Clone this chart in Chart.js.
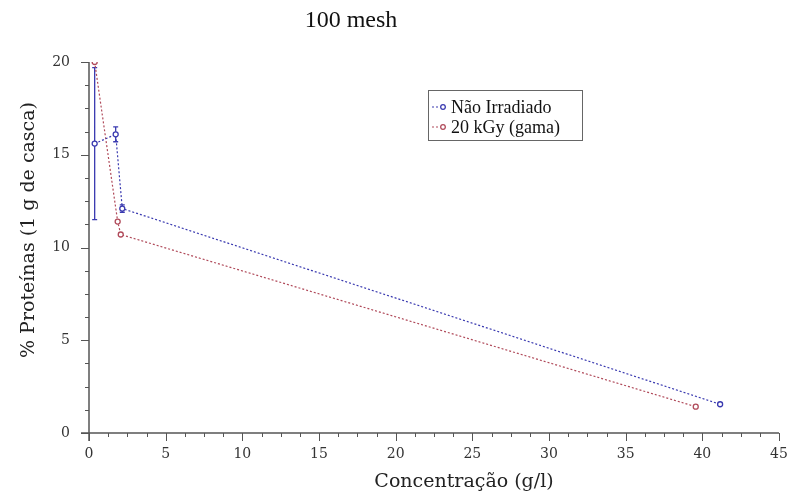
<!DOCTYPE html>
<html><head><meta charset="utf-8">
<script src="https://cdn.jsdelivr.net/npm/chart.js@4/dist/chart.umd.min.js"></script>
<style>html,body{margin:0;padding:0;background:#fff}#wrap{width:791px;height:495px}</style>
</head><body><div id="wrap"><canvas id="c" width="791" height="495"></canvas></div>
<script>
const chartTitle = "100 mesh";
const xTitle = "Concentração (g/l)";
const yTitle = "% Proteínas (1 g de casca)";
const seriesNames = ["Não Irradiado", "20 kGy (gama)"];
const naoX = [0.37, 1.74, 2.17, 41.16];
const naoY = [15.6, 16.1, 12.1, 1.55];
const naoErr = [4.1, 0.4, 0.2, 0.05];
const gamaX = [0.37, 1.87, 2.07, 39.57];
const gamaY = [20.0, 11.4, 10.7, 1.42];
const xMajorTicks = [0, 5, 10, 15, 20, 25, 30, 35, 40, 45];
const yMajorTicks = [0, 5, 10, 15, 20];

const BLUE = '#3a3ab0', RED = '#b04a5a', AXIS = '#555';
const TIMES = '"Liberation Serif", serif';
const SLAB = '"DejaVu Serif", serif';

const toPts = (xs, ys) => xs.map((x, i) => ({x, y: ys[i]}));

const decor = {
  id: 'decor',
  beforeDatasetsDraw(chart) {
    const ctx = chart.ctx, xs = chart.scales.x, ys = chart.scales.y;
    ctx.save();
    ctx.strokeStyle = AXIS; ctx.lineWidth = 1.5;
    ctx.beginPath();
    ctx.moveTo(xs.left - 8, ys.bottom); ctx.lineTo(xs.right, ys.bottom);
    ctx.moveTo(xs.left, ys.top); ctx.lineTo(xs.left, ys.bottom + 8);
    ctx.stroke();
    ctx.lineWidth = 1;
    ctx.beginPath();
    for (let v = 0; v <= 45; v += 1.25) {
      const px = Math.round(xs.getPixelForValue(v)) + 0.5;
      const len = (v % 5 === 0) ? 8 : 4;
      ctx.moveTo(px, ys.bottom); ctx.lineTo(px, ys.bottom + len);
    }
    for (let v = 0; v <= 20; v += 1.25) {
      const py = Math.round(ys.getPixelForValue(v)) + 0.5;
      const len = (v % 5 === 0) ? 8 : 4;
      ctx.moveTo(xs.left, py); ctx.lineTo(xs.left - len, py);
    }
    ctx.stroke();
    ctx.strokeStyle = BLUE; ctx.lineWidth = 1.3;
    ctx.beginPath();
    naoX.forEach((x, i) => {
      const e = naoErr[i]; if (!e) return;
      const px = xs.getPixelForValue(x);
      const t = ys.getPixelForValue(naoY[i] + e), b = ys.getPixelForValue(naoY[i] - e);
      ctx.moveTo(px, t); ctx.lineTo(px, b);
      ctx.moveTo(px - 2.5, t); ctx.lineTo(px + 2.5, t);
      ctx.moveTo(px - 2.5, b); ctx.lineTo(px + 2.5, b);
    });
    ctx.stroke();
    ctx.restore();
  },
  afterDraw(chart) {
    const ctx = chart.ctx, xs = chart.scales.x, ys = chart.scales.y;
    ctx.save();
    ctx.fillStyle = '#111';
    ctx.font = '24px ' + TIMES;
    ctx.textAlign = 'center'; ctx.textBaseline = 'middle';
    ctx.fillText(chartTitle, 351, 21);
    ctx.font = '14px ' + SLAB;
    ctx.fillStyle = '#333';
    xMajorTicks.forEach(v => ctx.fillText(String(v), xs.getPixelForValue(v), ys.bottom + 21));
    ctx.textAlign = 'right';
    yMajorTicks.forEach(v => ctx.fillText(String(v), xs.left - 19, ys.getPixelForValue(v)));
    ctx.fillStyle = '#222';
    ctx.font = '19px ' + SLAB;
    ctx.textAlign = 'center';
    ctx.fillText(xTitle, 464, 482);
    ctx.save();
    ctx.translate(29, 230);
    ctx.rotate(-Math.PI / 2);
    ctx.fillText(yTitle, 0, 0);
    ctx.restore();
    const lx = 428, ly = 90, lw = 154, lh = 50;
    ctx.strokeStyle = '#666'; ctx.lineWidth = 1;
    ctx.strokeRect(lx + 0.5, ly + 0.5, lw, lh);
    ctx.font = '18px ' + TIMES;
    ctx.textAlign = 'left';
    const cols = [BLUE, RED];
    seriesNames.forEach((name, i) => {
      const yy = ly + 17 + i * 20;
      ctx.strokeStyle = cols[i]; ctx.lineWidth = 1.2; ctx.setLineDash([2, 2]);
      ctx.beginPath(); ctx.moveTo(lx + 4, yy); ctx.lineTo(lx + 20, yy); ctx.stroke();
      ctx.setLineDash([]);
      ctx.fillStyle = '#fff';
      ctx.beginPath(); ctx.arc(lx + 15, yy, 2.3, 0, Math.PI * 2); ctx.fill(); ctx.stroke();
      ctx.fillStyle = '#111';
      ctx.fillText(name, lx + 23, yy + 1);
    });
    ctx.restore();
  }
};

new Chart(document.getElementById('c'), {
  type: 'scatter',
  data: {
    datasets: [
      { label: seriesNames[0], data: toPts(naoX, naoY), showLine: true,
        borderColor: BLUE, backgroundColor: '#fff', borderWidth: 1.2, borderDash: [2, 2],
        pointRadius: 2.5, pointBorderWidth: 1.3, pointBorderColor: BLUE, pointBackgroundColor: '#fff' },
      { label: seriesNames[1], data: toPts(gamaX, gamaY), showLine: true,
        borderColor: RED, backgroundColor: '#fff', borderWidth: 1.2, borderDash: [2, 2],
        pointRadius: 2.5, pointBorderWidth: 1.3, pointBorderColor: RED, pointBackgroundColor: '#fff' }
    ]
  },
  options: {
    responsive: false, animation: false, events: [],
    layout: { padding: { left: 89, right: 12, top: 62, bottom: 62 } },
    plugins: { legend: { display: false }, title: { display: false }, tooltip: { enabled: false } },
    scales: {
      x: { type: 'linear', min: 0, max: 45, display: false },
      y: { type: 'linear', min: 0, max: 20, display: false }
    }
  },
  plugins: [decor]
});
</script></body></html>
